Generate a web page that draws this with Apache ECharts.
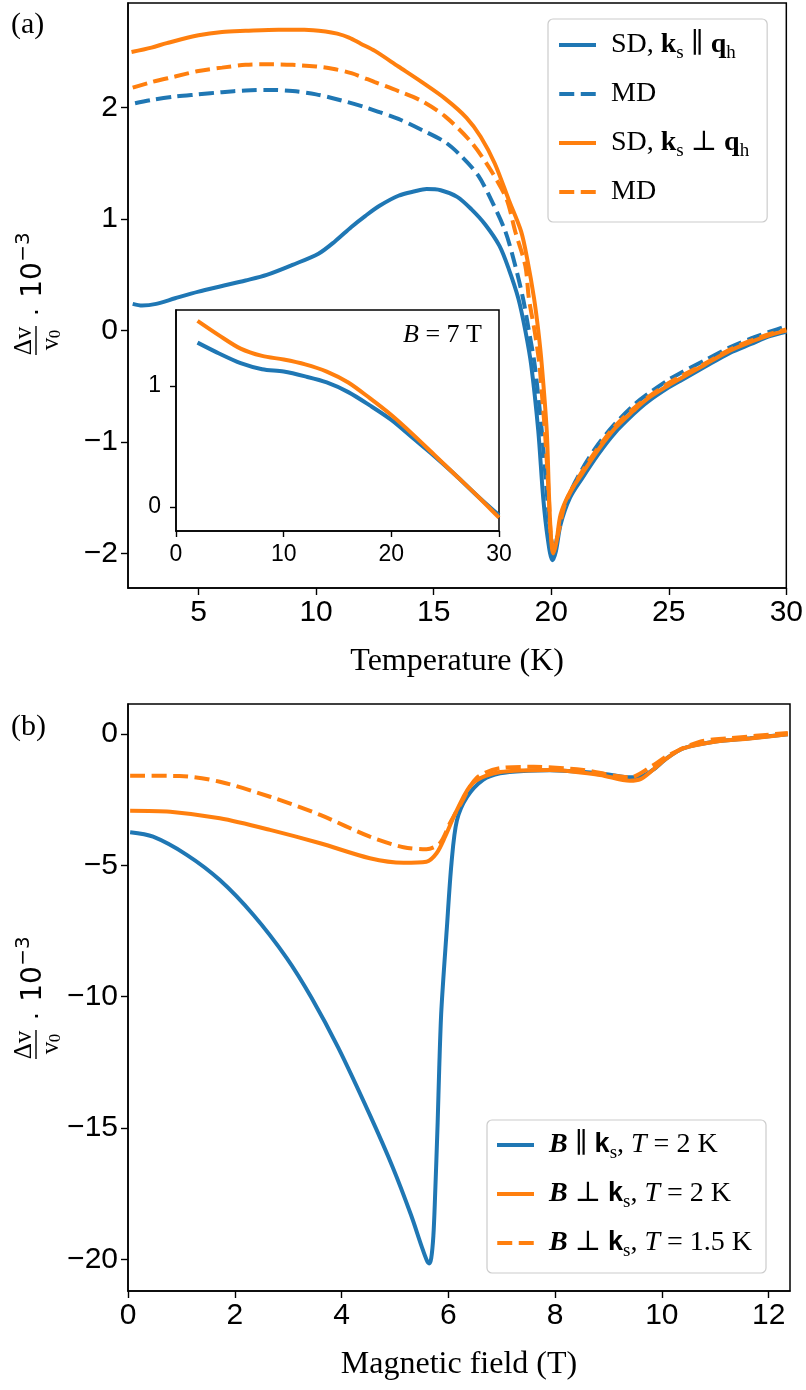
<!DOCTYPE html>
<html>
<head>
<meta charset="utf-8">
<script src="https://cdn.jsdelivr.net/npm/echarts@6/dist/echarts.min.js"></script>
<style>
  html, body { margin: 0; padding: 0; background: #fff; }
  #chart { width: 806px; height: 1390px; }
</style>
</head>
<body>
<div id="chart"></div>
<script>
const BLUE = '#1f77b4'
const ORANGE = '#ff7f0e'
const SERIF = "'Liberation Serif', 'DejaVu Serif', serif"
const SANS = "'Liberation Sans', 'DejaVu Sans', sans-serif"
const DASH = [15, 6.5]
const SOLID_ICON = 'path://M0,0H37V4H0Z'
const DASH_ICON = 'path://M0,0H15V4H0Z M21.5,0H36.5V4H21.5Z'

// panel (a): temperature sweeps, [T (K), dv/v0 * 1e-3]
const tempSdPar = [[2.2,0.24],[2.6,0.225],[3.2,0.24],[4,0.29],[5,0.35],[6,0.40],[7,0.45],[7.9,0.50],[9,0.59],[10.1,0.69],[10.8,0.80],[11.5,0.93],[12.1,1.03],[12.7,1.12],[13.5,1.21],[14.2,1.25],[14.7,1.27],[15.3,1.26],[16,1.20],[16.6,1.09],[17.2,0.95],[17.8,0.76],[18.2,0.55],[18.6,0.29],[18.9,0.0],[19.15,-0.31],[19.45,-0.9],[19.66,-1.5],[19.85,-1.86],[20.05,-2.06],[20.2,-1.98],[20.4,-1.74],[20.8,-1.50],[21.3,-1.33],[22,-1.11],[22.7,-0.92],[23.5,-0.75],[24.1,-0.64],[25,-0.51],[25.5,-0.45],[26.5,-0.33],[27.6,-0.20],[28.5,-0.12],[29.3,-0.05],[30,-0.01]]
const tempMdPar = [[2.3,2.04],[3,2.07],[4,2.10],[5,2.12],[6,2.14],[7,2.155],[8,2.16],[9,2.15],[10,2.12],[11,2.07],[12,2.01],[12.7,1.96],[13.5,1.90],[14.5,1.80],[15.5,1.69],[16.2,1.56],[16.9,1.39],[17.5,1.15],[18.05,0.89],[18.45,0.6],[18.8,0.29],[19.05,0.0],[19.3,-0.31],[19.6,-0.9],[19.83,-1.5],[19.98,-1.85],[20.12,-1.97],[20.3,-1.8],[20.6,-1.55],[21.3,-1.25],[22,-1.02],[22.7,-0.84],[23.5,-0.67],[24.1,-0.57],[25,-0.44],[25.5,-0.38],[26.5,-0.27],[27.6,-0.15],[28.5,-0.07],[29.3,-0.01],[30,0.04]]
const tempSdPerp = [[2.15,2.50],[3,2.54],[3.65,2.58],[5,2.65],[6,2.68],[7,2.69],[8.4,2.70],[9.5,2.70],[10.4,2.685],[10.9,2.665],[11.4,2.63],[11.9,2.575],[12.5,2.51],[13.5,2.37],[14.5,2.23],[15.5,2.08],[16.4,1.91],[17,1.74],[17.6,1.50],[18.2,1.17],[18.72,0.89],[19.0,0.62],[19.27,0.29],[19.45,0.0],[19.6,-0.31],[19.81,-0.9],[19.91,-1.5],[19.99,-1.85],[20.08,-2.0],[20.22,-1.9],[20.4,-1.65],[20.8,-1.45],[21.3,-1.29],[22,-1.07],[22.7,-0.88],[23.5,-0.72],[24.1,-0.61],[25,-0.49],[25.5,-0.43],[26.5,-0.31],[27.6,-0.18],[28.5,-0.10],[29.3,-0.04],[30,0.0]]
const tempMdPerp = [[2.2,2.18],[3,2.23],[4,2.28],[5,2.33],[6,2.36],[7,2.385],[8,2.39],[9,2.385],[10,2.37],[10.7,2.35],[11.5,2.31],[12.5,2.23],[13.5,2.15],[14.5,2.06],[15.5,1.92],[16.6,1.69],[17.4,1.45],[18.1,1.18],[18.47,0.89],[18.9,0.58],[19.05,0.29],[19.3,-0.01],[19.5,-0.31],[19.62,-0.61],[19.73,-0.9],[19.82,-1.2],[19.9,-1.5],[19.97,-1.8],[20.1,-1.97],[20.3,-1.82],[20.6,-1.55],[21.3,-1.27],[22,-1.05],[22.7,-0.86],[23.5,-0.70],[24.1,-0.60],[25,-0.47],[25.5,-0.41],[26.5,-0.30],[27.6,-0.17],[28.5,-0.09],[29.3,-0.03],[30,0.01]]

// inset, B = 7 T
const insetPar = [[2,1.36],[4,1.27],[6,1.19],[8,1.14],[10,1.12],[12,1.08],[14,1.03],[16,0.95],[18,0.84],[20,0.72],[22,0.57],[24,0.42],[26,0.26],[28,0.09],[30,-0.07]]
const insetPerp = [[2,1.54],[4,1.42],[6,1.31],[8,1.25],[10,1.22],[12,1.18],[14,1.12],[16,1.03],[18,0.90],[20,0.76],[22,0.60],[24,0.43],[26,0.26],[28,0.09],[30,-0.09]]

// panel (b): field sweeps, [B (T), dv/v0 * 1e-3]
const fieldPar2K = [[0.04,-3.74],[0.47,-3.91],[1.1,-4.6],[1.72,-5.56],[2.35,-6.89],[2.97,-8.52],[3.44,-10.05],[3.94,-11.95],[4.53,-14.5],[4.96,-16.5],[5.3,-18.3],[5.5,-19.5],[5.6,-20.05],[5.64,-20.15],[5.68,-19.95],[5.72,-19.1],[5.75,-17.7],[5.8,-14.8],[5.83,-12.7],[5.87,-10.5],[5.97,-7.46],[6.06,-4.9],[6.16,-3.3],[6.35,-2.4],[6.65,-1.75],[6.97,-1.5],[7.5,-1.40],[7.9,-1.38],[8.5,-1.44],[9.0,-1.54],[9.4,-1.65],[9.6,-1.63],[9.83,-1.37],[10.09,-0.93],[10.4,-0.55],[11.0,-0.29],[11.65,-0.16],[12.36,-0.01]]
const fieldPerp2K = [[0.04,-2.92],[0.79,-2.96],[1.72,-3.21],[2.66,-3.65],[3.6,-4.16],[4.53,-4.73],[5.16,-4.9],[5.59,-4.86],[5.78,-4.54],[5.94,-3.91],[6.16,-2.9],[6.46,-1.87],[6.97,-1.45],[7.9,-1.37],[8.84,-1.56],[9.4,-1.78],[9.6,-1.72],[9.83,-1.37],[10.09,-0.93],[10.4,-0.55],[11.02,-0.29],[11.65,-0.17],[12.36,-0.01]]
const fieldPerp15K = [[0.04,-1.59],[0.97,-1.6],[1.72,-1.82],[2.66,-2.39],[3.6,-3.08],[4.53,-3.91],[5.16,-4.31],[5.59,-4.39],[5.84,-4.16],[6.03,-3.4],[6.22,-2.7],[6.53,-1.68],[6.97,-1.3],[7.6,-1.25],[8.53,-1.37],[9.15,-1.6],[9.4,-1.65],[9.83,-1.2],[10.09,-0.85],[10.7,-0.30],[11.3,-0.16],[12.36,0.04]]

// tick values
const tempTicks = [5, 10, 15, 20, 25, 30]
const tempValTicks = [-2, -1, 0, 1, 2]
const insetTempTicks = [0, 10, 20, 30]
const insetValTicks = [0, 1]
const fieldTicks = [0, 2, 4, 6, 8, 10, 12]
const fieldValTicks = [-20, -15, -10, -5, 0]

const RICH = {
  b: { fontFamily: SERIF, fontWeight: 'bold', fontSize: 28, lineHeight: 36 },
  bs: { fontFamily: SANS, fontWeight: 'bold', fontSize: 27, lineHeight: 36 },
  bi: { fontFamily: SERIF, fontWeight: 'bold', fontStyle: 'italic', fontSize: 28, lineHeight: 36 },
  i: { fontFamily: SERIF, fontStyle: 'italic', fontSize: 28, lineHeight: 36 },
  s: { fontFamily: SERIF, fontSize: 19, lineHeight: 18, verticalAlign: 'bottom' }
}

const LEGEND_TEXT = {
  sdPar: 'SD, {b|k}{s|s} ∥ {b|q}{s|h}',
  mdPar: 'MD',
  sdPerp: 'SD, {b|k}{s|s} ⊥ {b|q}{s|h}',
  mdPerp: 'MD',
  par2: '{bi|B} ∥ {bs|k}{s|s}, {i|T} = 2 K',
  perp2: '{bi|B} ⊥ {bs|k}{s|s}, {i|T} = 2 K',
  perp15: '{bi|B} ⊥ {bs|k}{s|s}, {i|T} = 1.5 K'
}

const minus = v => (v < 0 ? '\u2212' + Math.abs(v) : String(v))

const line = (name, data, color, dashed, idx) => ({
  name, type: 'line', data,
  xAxisIndex: idx, yAxisIndex: idx,
  symbol: 'none', showSymbol: false, smooth: 0.3,
  lineStyle: { color, width: 4, type: dashed ? DASH : 'solid', cap: 'butt' },
  itemStyle: { color },
  emphasis: { disabled: true },
  silent: true
})

const valAxis = (idx, min, max, ticks, size, extra) => Object.assign({
  type: 'value', gridIndex: idx, min, max,
  axisLine: { show: true, onZero: false, lineStyle: { color: '#000', width: 1.5 } },
  axisTick: { show: true, length: idx === 1 ? 6 : 7, lineStyle: { color: '#000', width: 1.4 }, customValues: ticks },
  axisLabel: { color: '#000', fontFamily: SANS, fontSize: size, margin: 10, formatter: minus, customValues: ticks },
  splitLine: { show: false }
}, extra)

const legendBox = (items, left, top, padding) => ({
  orient: 'vertical', left, top,
  data: items.map(([name, dashed]) => ({ name, icon: dashed ? DASH_ICON : SOLID_ICON })),
  itemWidth: 37, itemHeight: 4, itemGap: 13,
  padding,
  backgroundColor: 'rgba(255,255,255,0.85)', borderColor: '#cccccc', borderWidth: 1.2, borderRadius: 5,
  selectedMode: false,
  formatter: n => LEGEND_TEXT[n],
  textStyle: { fontFamily: SERIF, fontSize: 28, color: '#000', lineHeight: 36, padding: [0, 0, 0, 10], rich: RICH }
})

const yLabel = cy => ({
  type: 'group', x: 36, y: cy, rotation: Math.PI / 2, silent: true,
  children: [
    { type: 'text', x: -47, y: -12, style: { text: 'Δv', fontFamily: SERIF, fontSize: 25, fill: '#000', align: 'center', verticalAlign: 'middle' } },
    { type: 'line', shape: { x1: -61, y1: 0, x2: -32, y2: 0 }, style: { stroke: '#000', lineWidth: 1.4 } },
    { type: 'text', x: -50, y: 15, style: { text: 'v', fontFamily: SERIF, fontSize: 25, fill: '#000', align: 'center', verticalAlign: 'middle' } },
    { type: 'text', x: -40, y: 20, style: { text: '0', fontFamily: SERIF, fontSize: 17, fill: '#000', align: 'center', verticalAlign: 'middle' } },
    { type: 'text', x: -18, y: 0, style: { text: '·', fontFamily: SANS, fontSize: 28, fill: '#000', align: 'center', verticalAlign: 'middle' } },
    { type: 'text', x: 14, y: -2, style: { text: '10', fontFamily: "'DejaVu Sans', sans-serif", fontSize: 28, fill: '#000', align: 'center', verticalAlign: 'middle' } },
    { type: 'text', x: 47, y: -12, style: { text: '\u22123', fontFamily: "'DejaVu Sans', sans-serif", fontSize: 20, fill: '#000', align: 'center', verticalAlign: 'middle' } }
  ]
})

const chart = echarts.init(document.getElementById('chart'), null, { renderer: 'canvas' })

chart.setOption({
  animation: false,
  backgroundColor: '#fff',
  grid: [
    { left: 128, top: 3, width: 662, height: 585, show: true, borderColor: '#000', borderWidth: 1.5, backgroundColor: 'transparent' },
    { left: 176, top: 310, width: 323, height: 221, show: true, borderColor: '#000', borderWidth: 1.5, backgroundColor: '#fff' },
    { left: 128, top: 704, width: 662, height: 587, show: true, borderColor: '#000', borderWidth: 1.5, backgroundColor: 'transparent' }
  ],
  xAxis: [
    valAxis(0, 2, 30, tempTicks, 30, {
      name: 'Temperature (K)', nameLocation: 'middle', nameGap: 58,
      nameTextStyle: { fontFamily: SERIF, fontSize: 32, color: '#000' }
    }),
    valAxis(1, 0, 30, insetTempTicks, 23, { axisLabel: { color: '#000', fontFamily: SANS, fontSize: 23, margin: 12, customValues: insetTempTicks } }),
    valAxis(2, 0, 12.4, fieldTicks, 30, {
      name: 'Magnetic field (T)', nameLocation: 'middle', nameGap: 58,
      nameTextStyle: { fontFamily: SERIF, fontSize: 32, color: '#000' }
    })
  ],
  yAxis: [
    valAxis(0, -2.31, 2.94, tempValTicks, 30),
    valAxis(1, -0.2, 1.63, insetValTicks, 23, { axisLabel: { color: '#000', fontFamily: SANS, fontSize: 23, margin: 15, customValues: insetValTicks } }),
    valAxis(2, -21.2, 1.14, fieldValTicks, 30)
  ],
  legend: [
    legendBox([['sdPar', false], ['mdPar', true], ['sdPerp', false], ['mdPerp', true]], 548, 19, [8, 18, 12, 11]),
    legendBox([['par2', false], ['perp2', false], ['perp15', true]], 487, 1120, [7, 14, 12, 10])
  ],
  series: [
    line('sdPar', tempSdPar, BLUE, false, 0),
    line('mdPar', tempMdPar, BLUE, true, 0),
    line('sdPerp', tempSdPerp, ORANGE, false, 0),
    line('mdPerp', tempMdPerp, ORANGE, true, 0),
    line('insetPar', insetPar, BLUE, false, 1),
    line('insetPerp', insetPerp, ORANGE, false, 1),
    line('par2', fieldPar2K, BLUE, false, 2),
    line('perp2', fieldPerp2K, ORANGE, false, 2),
    line('perp15', fieldPerp15K, ORANGE, true, 2)
  ],
  graphic: [
    { type: 'text', x: 11, y: 25, silent: true, style: { text: '(a)', fontFamily: SERIF, fontSize: 30, fill: '#000', align: 'left', verticalAlign: 'middle' } },
    { type: 'text', x: 11, y: 727, silent: true, style: { text: '(b)', fontFamily: SERIF, fontSize: 30, fill: '#000', align: 'left', verticalAlign: 'middle' } },
    {
      type: 'text', x: 482, y: 335, silent: true, z: 10,
      style: {
        text: '{i|B} = 7 T', fontFamily: SERIF, fontSize: 26, fill: '#000', align: 'right', verticalAlign: 'middle',
        rich: { i: { fontFamily: SERIF, fontStyle: 'italic', fontSize: 26 } }
      }
    },
    yLabel(294),
    yLabel(998)
  ]
})
</script>
</body>
</html>
